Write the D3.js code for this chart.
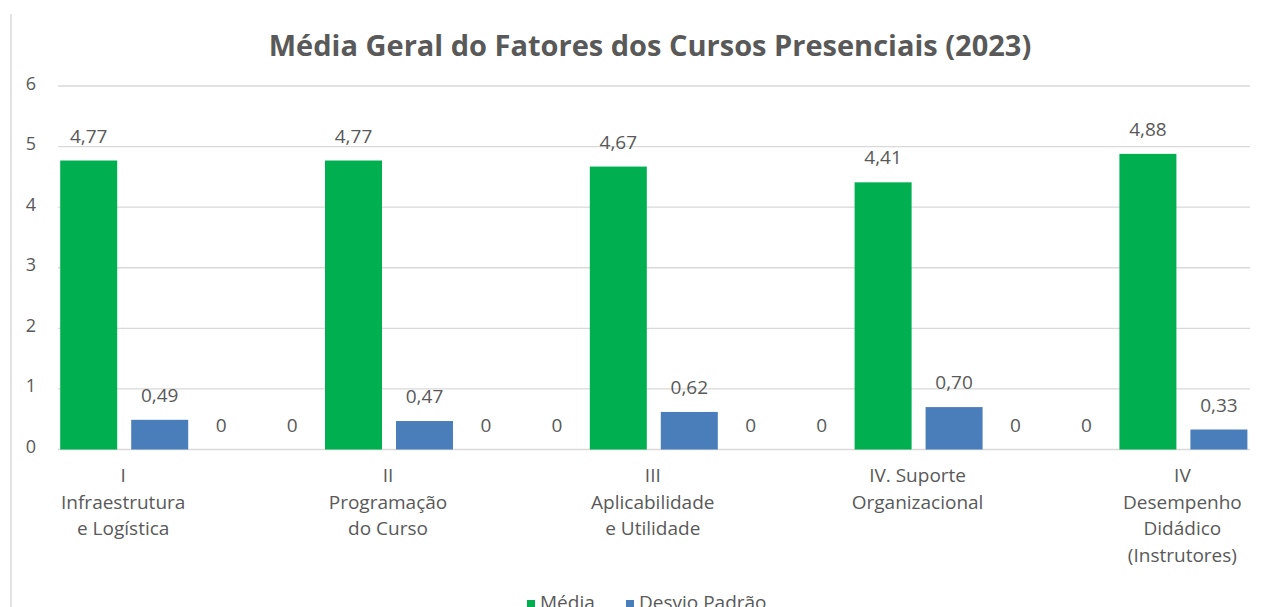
<!DOCTYPE html>
<html>
<head>
    <meta charset="utf-8">
    <script src="https://d3js.org/d3.v7.min.js"></script>
    <style>
        body { margin: 0; background: #fff; }
        text { font-family: "Open Sans", "Noto Sans", sans-serif; fill: #595959; }
    </style>
</head>
<body>
    <div id="cont"></div>

    <script>
        // dados (categorias em branco entre os fatores, como na planilha)
        var categories = [
            "I\nInfraestrutura\ne Logística", "",
            "II\nProgramação\ndo Curso", "",
            "III\nAplicabilidade\ne Utilidade", "",
            "IV. Suporte\nOrganizacional", "",
            "IV\nDesempenho\nDidádico\n(Instrutores)", ""
        ];
        var media  = [4.77, 0, 4.77, 0, 4.67, 0, 4.41, 0, 4.88, 0];
        var desvio = [0.49, 0, 0.47, 0, 0.62, 0, 0.70, 0, 0.33, 0];
        var seriesNames = ["Média", "Desvio Padrão"];
        var seriesColors = ["#00b050", "#4a7ebb"];
        var yTicks = [0, 1, 2, 3, 4, 5, 6];
        var title = "Média Geral do Fatores dos Cursos Presenciais (2023)";

        var W = 1266, H = 607;
        var left = 58, right = 1250;
        var catStep = 132.4;

        var svg = d3.select("#cont").append("svg")
            .attr("width", W)
            .attr("height", H);

        // borda do gráfico
        svg.append("line")
            .attr("x1", 11).attr("x2", 11)
            .attr("y1", 14).attr("y2", H)
            .attr("stroke", "#d9d9d9")
            .attr("stroke-width", 1.5);

        svg.append("text")
            .attr("x", 650)
            .attr("y", 56)
            .attr("text-anchor", "middle")
            .style("font-size", "29px")
            .style("font-weight", 700)
            .text(title);

        var y = d3.scaleLinear().domain([0, 6]).range([449.5, 86]);

        var x0 = d3.scaleBand()
            .domain(d3.range(categories.length))
            .range([left, left + catStep * categories.length])
            .paddingInner(0).paddingOuter(0);

        var x1 = d3.scaleBand()
            .domain(seriesNames)
            .range([0, x0.bandwidth()])
            .paddingInner(0.197)
            .paddingOuter(0.031);

        // grade
        svg.append("g").selectAll("line")
            .data(yTicks)
            .enter().append("line")
            .attr("x1", left).attr("x2", right)
            .attr("y1", function (d) { return y(d); })
            .attr("y2", function (d) { return y(d); })
            .attr("stroke", "#d9d9d9")
            .attr("stroke-width", 1.3);

        svg.append("g").selectAll("text")
            .data(yTicks)
            .enter().append("text")
            .attr("x", 36)
            .attr("y", function (d) { return y(d) + 3.5; })
            .attr("text-anchor", "end")
            .style("font-size", "18px")
            .text(function (d) { return d; });

        var fmt = function (v) {
            return v === 0 ? "0" : d3.format(".2f")(v).replace(".", ",");
        };

        // só as barras que caem dentro da área de plotagem
        var cellsData = [];
        categories.forEach(function (c, i) {
            [media[i], desvio[i]].forEach(function (v, k) {
                var cx = x0(i) + x1(seriesNames[k]) + x1.bandwidth() / 2;
                if (cx > left && cx < right) cellsData.push({ i: i, k: k, v: v });
            });
        });

        var cells = svg.append("g").selectAll("g")
            .data(cellsData)
            .enter().append("g")
            .attr("transform", function (d) { return "translate(" + x0(d.i) + ",0)"; });

        cells.append("rect")
            .attr("x", function (d) { return x1(seriesNames[d.k]); })
            .attr("width", x1.bandwidth())
            .attr("y", function (d) { return y(d.v); })
            .attr("height", function (d) { return y(0) - y(d.v); })
            .attr("fill", function (d) { return seriesColors[d.k]; });

        cells.append("text")
            .attr("x", function (d) { return x1(seriesNames[d.k]) + x1.bandwidth() / 2; })
            .attr("y", function (d) { return y(d.v) - 18; })
            .attr("text-anchor", "middle")
            .style("font-size", "19px")
            .text(function (d) { return fmt(d.v); });

        // rótulos das categorias
        var catLabels = svg.append("g").selectAll("text")
            .data(categories.map(function (c, i) { return { i: i, lines: c ? c.split("\n") : [] }; }))
            .enter().append("text")
            .attr("text-anchor", "middle")
            .style("font-size", "19px");

        catLabels.selectAll("tspan")
            .data(function (d) {
                return d.lines.map(function (l, j) { return { i: d.i, j: j, l: l }; });
            })
            .enter().append("tspan")
            .attr("x", function (d) { return x0(d.i) + x0.bandwidth() / 2 - 1; })
            .attr("y", function (d) { return 482 + d.j * 26.7; })
            .text(function (d) { return d.l; });

        // legenda
        var legendX = [527, 626];
        var legend = svg.append("g").selectAll("g")
            .data(seriesNames)
            .enter().append("g")
            .attr("transform", function (d, i) { return "translate(" + legendX[i] + ",0)"; });

        legend.append("rect")
            .attr("x", 0).attr("y", 600)
            .attr("width", 8).attr("height", 8)
            .attr("fill", function (d, i) { return seriesColors[i]; });

        legend.append("text")
            .attr("x", 13)
            .attr("y", 609)
            .style("font-size", "19px")
            .text(function (d) { return d; });
    </script>
</body>
</html>
